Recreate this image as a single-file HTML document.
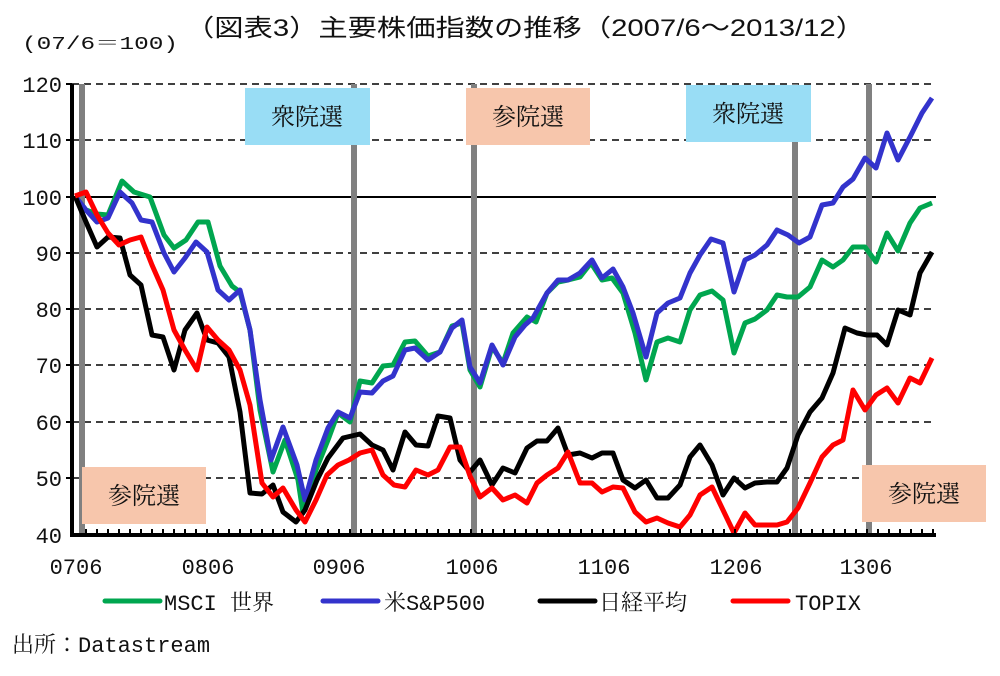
<!DOCTYPE html>
<html><head><meta charset="utf-8"><style>
body{margin:0;background:#fff}
svg text{font-family:"Liberation Mono","Noto Serif CJK JP",monospace;fill:#111}
</style></head><body>
<svg width="1000" height="671" viewBox="0 0 1000 671" xmlns="http://www.w3.org/2000/svg">
<text x="185" y="36" font-size="24" textLength="680" lengthAdjust="spacingAndGlyphs" style="font-family:'Liberation Sans','Noto Sans CJK JP',sans-serif">（図表3）主要株価指数の推移（2007/6～2013/12）</text>
<text x="22" y="49" font-size="18" textLength="156" lengthAdjust="spacingAndGlyphs">(07/6＝100)</text>
<g stroke="#000" stroke-width="1.5" stroke-dasharray="7,5">
<line x1="72" y1="84" x2="936" y2="84"/><line x1="72" y1="140" x2="936" y2="140"/>
<line x1="72" y1="253" x2="936" y2="253"/><line x1="72" y1="309" x2="936" y2="309"/>
<line x1="72" y1="365" x2="936" y2="365"/><line x1="72" y1="422" x2="936" y2="422"/>
<line x1="72" y1="478" x2="936" y2="478"/></g>
<line x1="72" y1="197" x2="936" y2="197" stroke="#000" stroke-width="2"/>
<g fill="#808080"><rect x="79" y="84" width="6" height="451"/><rect x="351" y="84" width="6" height="451"/><rect x="471" y="84" width="6" height="451"/><rect x="792" y="84" width="6" height="451"/><rect x="866" y="84" width="6" height="451"/></g>
<g style="font-family:'Noto Serif CJK JP',serif">
<rect x="245" y="88" width="125" height="57" fill="#99DDF5"/><text x="307" y="125" font-size="24" text-anchor="middle" style="font-family:'Noto Serif CJK JP',serif">衆院選</text>
<rect x="466" y="88" width="124" height="57" fill="#F7C6AC"/><text x="528" y="125" font-size="24" text-anchor="middle" style="font-family:'Noto Serif CJK JP',serif">参院選</text>
<rect x="686" y="85" width="125" height="57" fill="#99DDF5"/><text x="748" y="122" font-size="24" text-anchor="middle" style="font-family:'Noto Serif CJK JP',serif">衆院選</text>
<rect x="82" y="467" width="124" height="57" fill="#F7C6AC"/><text x="144" y="504" font-size="24" text-anchor="middle" style="font-family:'Noto Serif CJK JP',serif">参院選</text>
<rect x="862" y="465" width="124" height="57" fill="#F7C6AC"/><text x="924" y="502" font-size="24" text-anchor="middle" style="font-family:'Noto Serif CJK JP',serif">参院選</text>
</g>
<g fill="none" stroke-width="5" stroke-linejoin="round">
<polyline stroke="#00A64F" points="75,196 86,210 97,214 108,215 122,181 134,192 150,197 164,235 174,248 186,240 198,222 208,222 220,266 232,286 240,292 250,330 260,410 273,472 285,440 298,480 303,513 316,470 328,440 338,413 350,422 360,381 372,383 383,366 393,365 405,342 415,341 428,356 440,352 452,326 462,323 470,370 480,387 492,347 503,363 513,333 527,317 536,322 547,293 558,282 568,280 580,277 591,263 602,280 612,278 623,293 635,333 646,380 657,342 668,338 680,342 690,310 700,295 712,291 723,300 734,353 745,323 755,319 767,310 777,295 787,297 798,297 810,287 822,260 833,267 843,260 853,247 865,247 876,262 887,233 898,251 910,223 920,208 932,203"/>
<polyline stroke="#3333CC" points="75,196 86,210 97,222 108,218 120,192 132,203 141,220 152,222 164,253 174,272 185,258 196,242 207,252 218,290 229,300 240,290 250,330 260,400 271,460 283,427 297,465 305,500 316,460 328,428 338,412 350,418 360,392 372,393 383,381 393,376 405,350 415,348 428,360 440,352 452,328 462,320 470,367 480,383 492,345 503,365 515,337 525,325 533,318 547,293 558,280 568,280 580,273 592,260 602,278 613,269 623,287 633,313 646,357 657,313 668,303 680,298 690,273 700,255 711,239 723,243 734,292 745,260 755,255 767,245 777,230 788,235 799,243 810,237 822,205 833,203 843,187 853,179 865,158 876,168 887,133 898,160 910,137 922,113 932,98"/>
<polyline stroke="#000" points="75,196 86,222 97,247 108,237 120,238 130,275 141,285 152,335 163,337 174,370 185,330 197,313 207,340 218,343 229,357 240,412 250,493 262,494 273,485 283,512 296,522 305,510 317,480 328,458 343,438 360,434 372,445 383,450 393,470 405,432 416,445 428,446 438,416 450,418 460,460 470,472 480,460 492,485 503,468 515,473 527,448 537,441 547,441 558,428 568,455 580,453 592,458 602,453 613,453 623,480 635,488 646,480 657,498 668,498 680,485 690,457 700,445 712,465 723,495 734,478 745,488 755,483 767,482 777,482 787,468 798,435 810,412 822,398 833,373 845,328 857,333 867,335 877,335 887,345 898,310 910,315 920,273 932,252"/>
<polyline stroke="#FF0000" points="75,196 86,192 97,215 108,233 119,245 130,240 141,237 152,265 163,290 174,330 185,350 197,370 207,327 218,340 229,350 240,370 250,405 262,483 273,497 283,488 296,510 305,522 316,500 327,475 338,465 349,460 360,453 372,450 383,475 394,485 405,487 416,470 428,475 438,470 450,447 460,447 470,476 480,497 492,488 503,500 515,495 527,503 537,483 547,475 558,468 568,452 580,483 592,483 602,492 613,487 623,488 635,512 646,522 657,518 668,523 680,527 690,515 700,495 712,487 723,510 734,533 745,513 755,525 767,525 777,525 787,522 798,508 810,483 822,457 833,445 843,440 853,390 865,410 876,395 887,388 898,403 910,378 920,383 932,358"/>
</g>
<g stroke="#000" stroke-width="4" fill="none"><polyline points="72,84 72,535 936,535"/></g>
<g stroke="#000" stroke-width="2">
<line x1="66" y1="84" x2="72" y2="84"/><line x1="66" y1="140" x2="72" y2="140"/><line x1="66" y1="197" x2="72" y2="197"/><line x1="66" y1="253" x2="72" y2="253"/><line x1="66" y1="309" x2="72" y2="309"/><line x1="66" y1="365" x2="72" y2="365"/><line x1="66" y1="422" x2="72" y2="422"/><line x1="66" y1="478" x2="72" y2="478"/>
</g>
<path stroke="#000" stroke-width="2" d="M86 535v-6M97 535v-6M108 535v-6M119 535v-6M130 535v-6M141 535v-6M152 535v-6M163 535v-6M174 535v-6M185 535v-6M196 535v-6M207 535v-6M218 535v-6M229 535v-6M240 535v-6M251 535v-6M262 535v-6M273 535v-6M284 535v-6M295 535v-6M306 535v-6M317 535v-6M328 535v-6M339 535v-6M350 535v-6M361 535v-6M372 535v-6M383 535v-6M394 535v-6M405 535v-6M416 535v-6M427 535v-6M438 535v-6M449 535v-6M460 535v-6M471 535v-6M482 535v-6M493 535v-6M504 535v-6M515 535v-6M526 535v-6M537 535v-6M548 535v-6M559 535v-6M570 535v-6M581 535v-6M592 535v-6M603 535v-6M614 535v-6M625 535v-6M636 535v-6M647 535v-6M658 535v-6M669 535v-6M680 535v-6M691 535v-6M702 535v-6M713 535v-6M724 535v-6M735 535v-6M746 535v-6M757 535v-6M768 535v-6M779 535v-6M790 535v-6M801 535v-6M812 535v-6M823 535v-6M834 535v-6M845 535v-6M856 535v-6M867 535v-6M878 535v-6M889 535v-6M900 535v-6M911 535v-6M922 535v-6M933 535v-6"/>
<g font-size="22" text-anchor="end">
<text x="62" y="92">120</text><text x="62" y="148">110</text><text x="62" y="205">100</text><text x="62" y="261">90</text><text x="62" y="317">80</text><text x="62" y="373">70</text><text x="62" y="430">60</text><text x="62" y="486">50</text><text x="62" y="543">40</text></g>
<g font-size="22" text-anchor="middle">
<text x="76" y="574">0706</text><text x="208" y="574">0806</text><text x="339" y="574">0906</text><text x="472" y="574">1006</text><text x="604" y="574">1106</text><text x="736" y="574">1206</text><text x="866" y="574">1306</text></g>
<g stroke-width="5" stroke-linecap="round">
<line x1="105" y1="601" x2="160" y2="601" stroke="#00A64F"/><line x1="323" y1="601" x2="378" y2="601" stroke="#3333CC"/>
<line x1="540" y1="601" x2="595" y2="601" stroke="#000"/><line x1="733" y1="601" x2="788" y2="601" stroke="#FF0000"/></g>
<g font-size="22"><text x="164" y="610">MSCI 世界</text><text x="384" y="610">米S&amp;P500</text><text x="599" y="610">日経平均</text><text x="795" y="610">TOPIX</text>
<text x="12" y="652">出所：Datastream</text></g>
</svg>
</body></html>
